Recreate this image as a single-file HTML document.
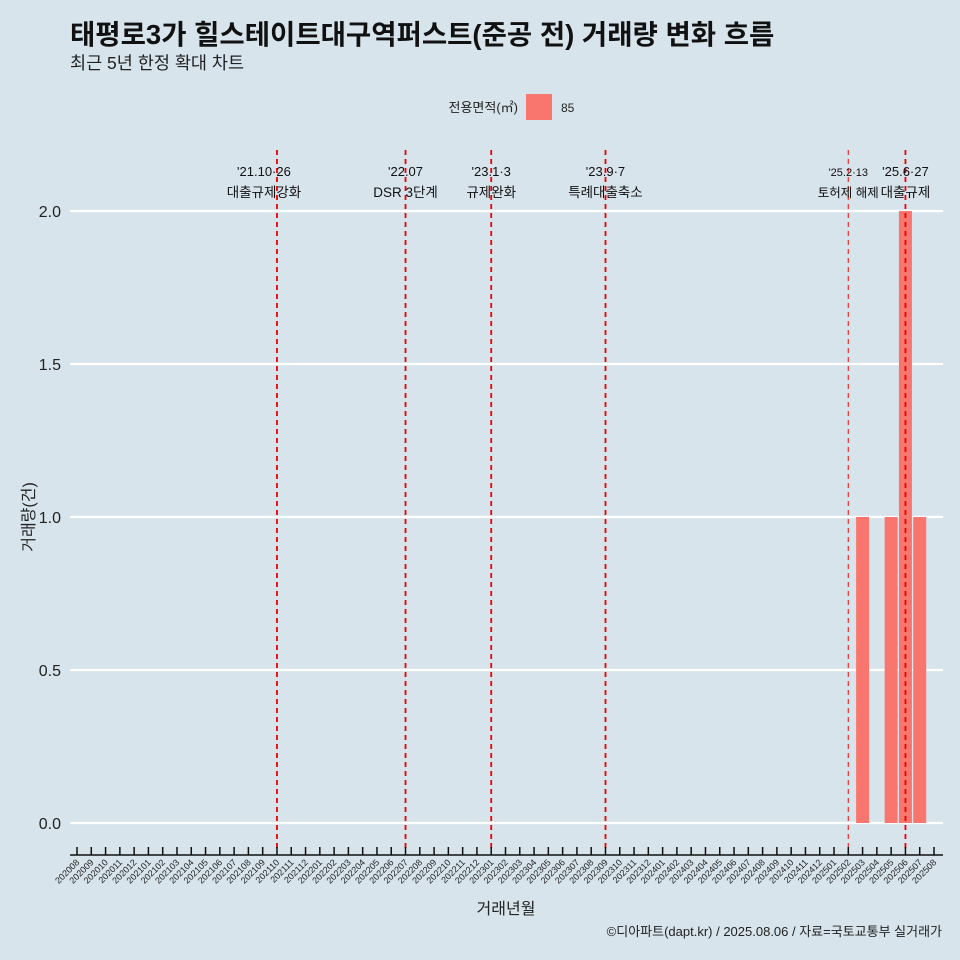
<!DOCTYPE html>
<html><head><meta charset="utf-8"><style>
body{margin:0;background:#d7e4eb;}
svg{display:block;font-family:"Liberation Sans","Noto Sans CJK KR",sans-serif;}
</style></head><body>
<svg id="c" width="960" height="960">
<rect width="960" height="960" fill="#d7e4eb"/>
<text x="70" y="44" font-size="27.5" font-weight="bold" fill="#111">태평로3가 힐스테이트대구역퍼스트(준공 전) 거래량 변화 흐름</text>
<text x="70" y="69" font-size="17.5" fill="#222">최근 5년 한정 확대 차트</text>
<text x="518" y="112" font-size="13" text-anchor="end" fill="#222">전용면적(㎡)</text>
<rect x="526" y="94" width="26" height="26" fill="#f8766d"/>
<text x="561" y="112" font-size="12" fill="#222">85</text>
<g id="grid"></g><g id="bars"></g><g id="vlines"></g><g id="xaxis"></g>
<text x="34" y="517" font-size="16" fill="#222" text-anchor="middle" transform="rotate(-90 34 517)">거래량(건)</text>
<text x="506" y="914" font-size="16" fill="#222" text-anchor="middle">거래년월</text>
<text x="942" y="936" font-size="13" fill="#222" text-anchor="end">©디아파트(dapt.kr) / 2025.08.06 / 자료=국토교통부 실거래가</text>
</svg>
<script>
const months=[];for(let y=2020;y<=2025;y++)for(let m=1;m<=12;m++){const k=y*100+m;if(k>=202008&&k<=202508)months.push(String(k));}
const barMonths=["202503","202505","202506","202507"];
const barValues=[1,1,2,1];
const yTicks=[0,0.5,1.0,1.5,2.0];
const yTickLabels=["0.0","0.5","1.0","1.5","2.0"];
const eventMonths=["202110","202207","202301","202309","202502","202506"];
const eventDates=["'21.10·26","'22.07","'23.1·3","'23.9·7","'25.2·13","'25.6·27"];
const eventLabels=["대출규제강화","DSR 3단계","규제완화","특례대출축소","토허제 해제","대출규제"];
const NS="http://www.w3.org/2000/svg";
const X=m=>77+months.indexOf(m)*(934-77)/(months.length-1);
const Y=v=>823-v*306;
function mk(p,t,a){const e=document.createElementNS(NS,t);for(const k in a)e.setAttribute(k,a[k]);document.getElementById(p).appendChild(e);return e;}
yTicks.forEach((v,i)=>{
 const l=mk('grid','line',{x1:70,x2:943,y1:Y(v),y2:Y(v),stroke:'#fff','stroke-width':2.2});
 
 
 const t=mk('grid','text',{x:61,y:Y(v)+6,'font-size':16,'text-anchor':'end',fill:'#222'});t.textContent=yTickLabels[i];
 
 
});
barMonths.forEach((m,i)=>{
 const r=mk('bars','rect',{x:X(m)-6.5,y:Y(barValues[i]),width:13,height:Y(0)-Y(barValues[i]),fill:'#f8766d'});
 
 
});
eventMonths.forEach((m,i)=>{
 const x=X(m);const thin=m==="202502";
 const off=i===0?-13:0;
 const l=mk('vlines','line',{x1:x,x2:x,y1:150,y2:850,stroke:thin?'#f03030':'#ee0000','stroke-width':thin?1.2:1.8,'stroke-dasharray':'5,4'});
 
 
 const fs=thin?11:13;
 const t1=mk('vlines','text',{x:x+off,y:176,'font-size':fs,'text-anchor':'middle',fill:'#111'});t1.textContent=eventDates[i];
 
 
 const t2=mk('vlines','text',{x:x+off,y:197,'font-size':thin?12.5:13.5,'text-anchor':'middle',fill:'#111'});t2.textContent=eventLabels[i];
 
 
});
const ax=mk('xaxis','line',{x1:70,x2:943,y1:855,y2:855,stroke:'#111','stroke-width':1.5});


months.forEach(m=>{
 const x=X(m);
 const tk=mk('xaxis','line',{x1:x,x2:x,y1:847,y2:855,stroke:'#111','stroke-width':1.5});
 
 
 const t=mk('xaxis','text',{x:x+3,y:863,'font-size':9,'text-anchor':'end',fill:'#222',transform:`rotate(-45 ${x+3} 863)`});t.textContent=m;
 
 
});
</script>
</body></html>
